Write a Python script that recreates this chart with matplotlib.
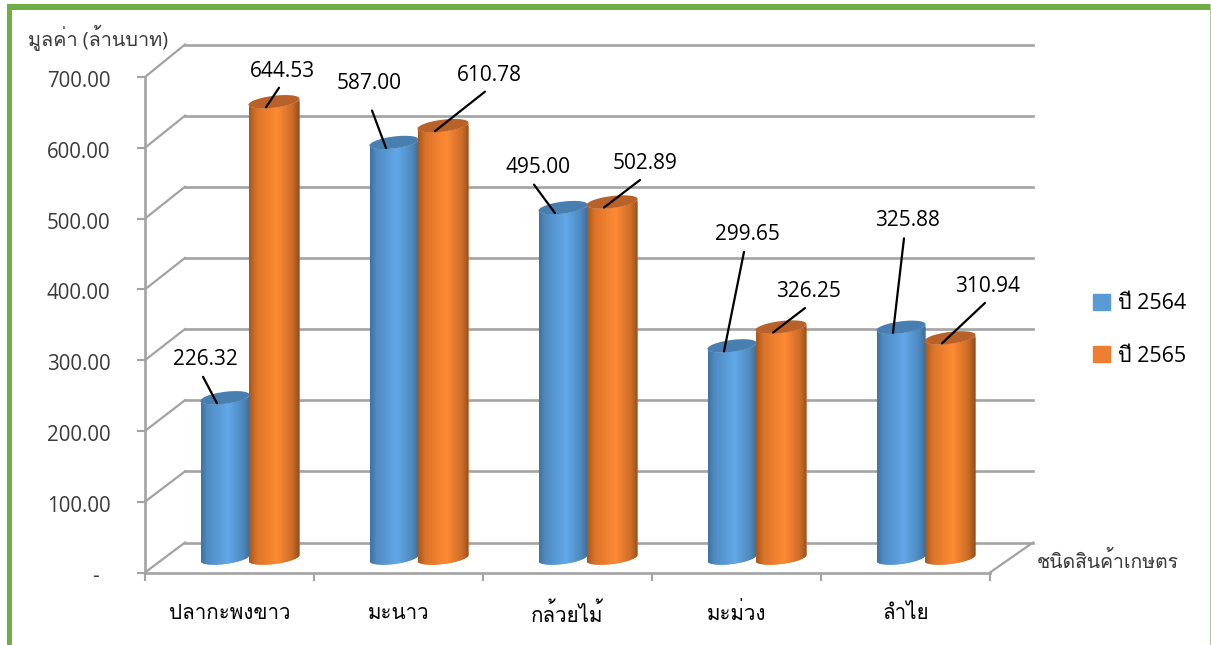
import numpy as np
import matplotlib
matplotlib.use("Agg")
import matplotlib.pyplot as plt
from matplotlib import font_manager as fm
from matplotlib.patches import Rectangle, Patch, PathPatch
from matplotlib.path import Path
from matplotlib.transforms import Affine2D
from matplotlib.colors import LinearSegmentedColormap

# ---- data ----
categories = ["ปลากะพงขาว", "มะนาว", "กล้วยไม้", "มะม่วง", "ลำไย"]
series_names = ["ปี 2564", "ปี 2565"]
values_2564 = [226.32, 587.00, 495.00, 299.65, 325.88]
values_2565 = [644.53, 610.78, 502.89, 326.25, 310.94]
y_ticks = [0, 100, 200, 300, 400, 500, 600, 700]
y_title = "มูลค่า (ล้านบาท)"
x_title = "ชนิดสินค้าเกษตร"

# label layout, pixel offsets from the top of each cylinder
label_off_2564 = [(-20, 38), (-25, 59), (-25, 40), (15, 111), (6, 107)]
line_off_2564 = [(-22, 21), (-22, 32), (-29, 23), (12, 94), (3, 89)]
label_off_2565 = [(8, 30), (46, 50), (33, 39), (27, 36), (38, 51)]
line_off_2565 = [(5, 14), (42, 34), (28, 22), (24, 19), (35, 35)]

# ---- fonts ----
thai = []
for f in fm.fontManager.ttflist:
    try:
        if 0x0E01 in fm.get_font(f.fname).get_charmap() and f.name not in thai:
            thai.append(f.name)
    except Exception:
        pass
FAM = ["Open Sans"] + thai[:1] + ["Noto Sans", "DejaVu Sans"]
plt.rcParams["font.family"] = FAM

W, H = 1211, 645
fig = plt.figure(figsize=(W / 100, H / 100), dpi=100, facecolor="white")
L, R, T, B = 145, 990, 77, 572.5
ax = fig.add_axes([L / W, 1 - B / H, (R - L) / W, (B - T) / H])
ax.patch.set_alpha(0)
GREY = "#A3A3A3"
TXT = "#3A3A3A"
PXX = (R - L) / 5
PXY = (B - T) / 700
WALL_SCALE = 498 / 495.5


def trans(dx, dy):
    return ax.transData + Affine2D().translate(dx, dy)


# ---- walls ----
wall = trans(40, 30)
right_end = 5 + 3 / PXX
for v in y_ticks:
    vb = v * WALL_SCALE
    ax.plot([0, right_end], [vb, vb], color=GREY, lw=1.9, transform=wall, clip_on=False, zorder=1)
    ax.plot([0, 40 / PXX], [v, vb + 30 / PXY], color=GREY, lw=1.6, clip_on=False, zorder=1)
ax.plot([5, 5 + 43 / PXX], [0, 30 / PXY], color=GREY, lw=1.6, clip_on=False, zorder=1)

# ---- cylinders ----
cmap_blue = LinearSegmentedColormap.from_list(
    "b", [(0, "#3E719F"), (0.12, "#4F8AC0"), (0.55, "#62A8E8"), (0.85, "#4F8AC0"), (1, "#3D6D99")])
cmap_orange = LinearSegmentedColormap.from_list(
    "o", [(0, "#A3581F"), (0.15, "#DB7429"), (0.55, "#FF8A33"), (0.85, "#CC6C28"), (1, "#8C4C1C")])
plane = trans(20, 14.5)
A = 24.5 / PXX
EB, EK = 6 / PXY, 3 / PXY
grad = np.linspace(0, 1, 256).reshape(1, -1)


def cylinder(xc, v, base_col, cmap, top_col, half):
    t = np.linspace(np.pi, 2 * np.pi, 60)
    xs = xc + half * np.cos(t)
    bottom = EB * np.sin(t) + EK * np.cos(t)
    top = v + EB * np.sin(t) + EK * np.cos(t)
    verts = np.vstack([np.c_[xs, bottom], np.c_[xs[::-1], top[::-1]], [[xs[0], bottom[0]]]])
    clip = PathPatch(Path(verts), transform=plane, fc="none", ec="none")
    ax.add_patch(clip)
    bars = ax.bar([xc], [v - bottom.min()], half * 2, bottom=bottom.min(), color=base_col,
                  transform=plane, zorder=3)
    for b in bars:
        b.set_clip_path(clip)
    im = ax.imshow(grad, cmap=cmap, aspect="auto", zorder=3,
                   extent=[xc - half, xc + half, bottom.min(), v + EB + EK], interpolation="bilinear")
    im.set_transform(plane)
    im.set_clip_path(clip)
    tt = np.linspace(0, 2 * np.pi, 90)
    ax.fill(xc + half * np.cos(tt), v + EB * np.sin(tt) + EK * np.cos(tt), color=top_col,
            transform=plane, zorder=3, lw=0)


centers = np.arange(5) + 0.5
x_blue = centers - A
x_orange = centers + A
for i in range(5):
    cylinder(x_blue[i], values_2564[i], "#5B9BD5", cmap_blue, "#487FB0", A)
    cylinder(x_orange[i], values_2565[i], "#ED7D31", cmap_orange, "#B8622A", A * 51 / 49)

# ---- data labels with leader lines ----
for xs, vals, labs, lins in [(x_blue, values_2564, label_off_2564, line_off_2564),
                             (x_orange, values_2565, label_off_2565, line_off_2565)]:
    for x, v, lab, lin in zip(xs, vals, labs, lins):
        ax.annotate("", xy=(x, v), xycoords=trans(20 - 8, 14.5 - 5.5), xytext=(lin[0] + 8, lin[1] + 5.5),
                    textcoords="offset pixels", zorder=5, annotation_clip=False,
                    arrowprops=dict(arrowstyle="-", color="black", lw=1.6, shrinkA=0, shrinkB=0))
        ax.annotate(f"{v:.2f}", xy=(x, v), xycoords=plane, xytext=lab, textcoords="offset pixels",
                    ha="center", va="center", fontsize=15, color="black", zorder=6,
                    annotation_clip=False)

# ---- axes ----
ax.set_xlim(0, 5)
ax.set_ylim(0, 700)
for s in ("top", "right"):
    ax.spines[s].set_visible(False)
for s in ("left", "bottom"):
    ax.spines[s].set_color(GREY)
    ax.spines[s].set_linewidth(1.9)
ax.set_xticks(range(6))
ax.set_xticklabels([])
ax.set_xticks(centers, minor=True)
ax.set_xticklabels(categories, minor=True, fontsize=14.8, color="black")
ax.tick_params(axis="x", which="major", length=5.8, width=1.5, color=GREY)
ax.tick_params(axis="x", which="minor", length=0, pad=22)
ax.set_yticks(y_ticks)
ax.set_yticklabels([f"{v:.2f}" if v else "-  " for v in y_ticks], fontsize=14.8, color=TXT)
ax.tick_params(axis="y", length=5.8, width=1.5, color=GREY, pad=19)
for lab in ax.get_yticklabels():
    lab.set_transform(lab.get_transform() + Affine2D().translate(0, -2))

fig.text(28 / W, 1 - 38 / H, y_title, fontsize=14.3, color=TXT, ha="left", va="center")
fig.text(1037 / W, 1 - 561 / H, x_title, fontsize=14, color=TXT, ha="left", va="center")

# ---- legend ----
fig.legend(handles=[Patch(color="#5B9BD5"), Patch(color="#ED7D31")], labels=series_names,
           frameon=False, fontsize=15.5, loc="center left", bbox_to_anchor=(1074 / W, 1 - 330 / H),
           handlelength=0.78, handleheight=0.78, handletextpad=0.35, labelspacing=1.45, labelcolor="black")

# ---- green frame ----
for (x0, y0, x1, y1, c) in [(7, 4, W, 10, "#70AD47"), (7, 4, 12, H, "#70AD47"), (1209.5, 4, W, H, "#A9D18E")]:
    fig.add_artist(Rectangle((x0 / W, 1 - y1 / H), (x1 - x0) / W, (y1 - y0) / H,
                             transform=fig.transFigure, fc=c, ec="none"))

fig.savefig("out.png", dpi=100)
